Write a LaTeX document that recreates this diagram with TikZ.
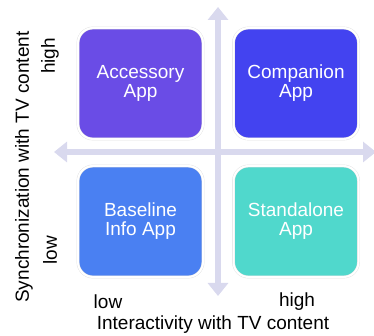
\documentclass[tikz,border=0pt]{standalone}
\usepackage{fontspec}
\setmainfont{Liberation Sans}
\usetikzlibrary{arrows.meta}
\definecolor{accessory}{HTML}{6A4CE6}
\definecolor{companion}{HTML}{4343F0}
\definecolor{baseline}{HTML}{4A80F2}
\definecolor{standalone}{HTML}{50D8CC}
\definecolor{axiscol}{HTML}{D9D9EE}
\begin{document}
\begin{tikzpicture}[x=1pt,y=1pt,
  quadbox/.style={draw=black!12,double=white,double distance=2pt,rounded corners=15pt,
    minimum width=125pt,minimum height=111pt,text=white,align=center,
    font=\fontsize{19}{19}\selectfont},
  axisarrow/.style={draw=axiscol,line width=6pt,-{Triangle[width=20pt,length=13pt]}},
  axislabel/.style={inner sep=0pt,font=\fontsize{19}{19}\selectfont}]
 \useasboundingbox (0,0) rectangle (374,336);
 % axes
 \coordinate (vbot) at (218,40);
 \coordinate (vtop) at (218,329);
 \coordinate (hleft) at (54,184);
 \coordinate (hright) at (376,184);
 \draw[axisarrow,{Triangle[width=20pt,length=13pt]}-{Triangle[width=20pt,length=13pt]}] (vbot) -- (vtop);
 \draw[axisarrow,{Triangle[width=20pt,length=13pt]}-{Triangle[width=20pt,length=13pt]}] (hleft) -- (hright);
 % quadrants
 \node[quadbox,fill=accessory] (accessory) at (140.5,252.5) {Accessory\\App};
 \node[quadbox,fill=companion] (companion) at (296,252.5) {Companion\\App};
 \node[quadbox,fill=baseline] (baseline) at (140.5,114.5) {Baseline\\Info App};
 \node[quadbox,fill=standalone] (standalone) at (296,114.5) {Standalone\\App};
 % labels
 \node[axislabel,rotate=90] (synchigh) at (50,280) {high};
 \node[axislabel,rotate=90] (synclow) at (50,86) {low};
 \node[axislabel,rotate=90] (synctitle) at (24,169) {Synchronization with TV content};
 \node[axislabel] (interlow) at (108,34) {low};
 \node[axislabel] (interhigh) at (297,34) {high};
 \node[axislabel] (intertitle) at (213,11) {Interactivity with TV content};
\end{tikzpicture}
\end{document}
